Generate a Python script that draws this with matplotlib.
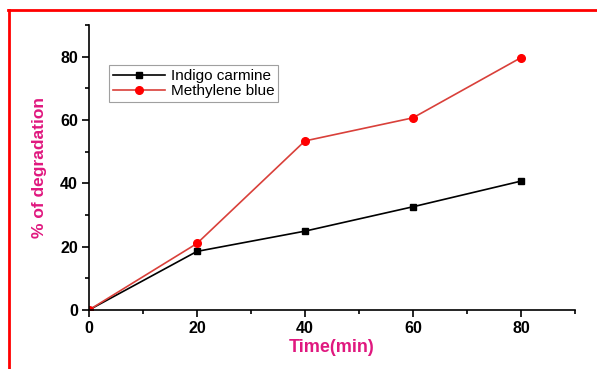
import matplotlib.pyplot as plt
from matplotlib.lines import Line2D

plt.rcParams['font.family'] = ['Liberation Sans', 'DejaVu Sans']

time = [0, 20, 40, 60, 80]
indigo = [0, 18.5, 24.9, 32.6, 40.7]
methylene = [0, 21.0, 53.4, 60.7, 79.7]

fig = plt.figure(figsize=(5.97, 3.69), dpi=100)
ax = fig.add_axes([0.149, 0.160, 0.814, 0.772])

ax.plot(time, indigo, color='black', lw=1.2, marker='s', ms=5, label='Indigo carmine')
ax.plot(time, methylene, color='#d9403a', lw=1.2, marker='o', ms=5.5,
        mfc='red', mec='red', label='Methylene blue')

ax.set_xlim(0, 90)
ax.set_ylim(0, 90)
ax.set_xticks([0, 20, 40, 60, 80])
ax.set_yticks([0, 20, 40, 60, 80])
ax.set_xticks(range(10, 91, 20), minor=True)
ax.set_yticks(range(10, 91, 20), minor=True)
ax.spines['top'].set_visible(False)
ax.spines['right'].set_visible(False)
ax.spines['left'].set_linewidth(1.2)
ax.spines['bottom'].set_linewidth(1.2)
ax.tick_params(which='major', direction='out', length=5, width=1.2, pad=3)
ax.tick_params(which='minor', direction='out', length=3, width=1.2)
for lbl in ax.get_xticklabels() + ax.get_yticklabels():
    lbl.set_fontweight('bold')
    lbl.set_fontsize(11.5)

pink = '#e0187f'
ax.set_xlabel('Time(min)', color=pink, fontsize=13, fontweight='bold', labelpad=2)
ax.set_ylabel('% of degradation', color=pink, fontsize=12.5, fontweight='bold', labelpad=9)

leg = ax.legend(loc='upper left', bbox_to_anchor=(0.025, 0.885), fontsize=11,
                frameon=True, fancybox=False, edgecolor='#888888',
                borderpad=0.25, labelspacing=0.05, handlelength=3.4, handletextpad=0.4)
leg.get_frame().set_linewidth(0.8)

# red frame around the figure
fig.add_artist(Line2D([0.013, 1.0], [0.973, 0.973], color='red', lw=2, transform=fig.transFigure))
fig.add_artist(Line2D([0.015, 0.015], [0.0, 0.973], color='red', lw=2, transform=fig.transFigure))

fig.savefig('out.png', dpi=100)
